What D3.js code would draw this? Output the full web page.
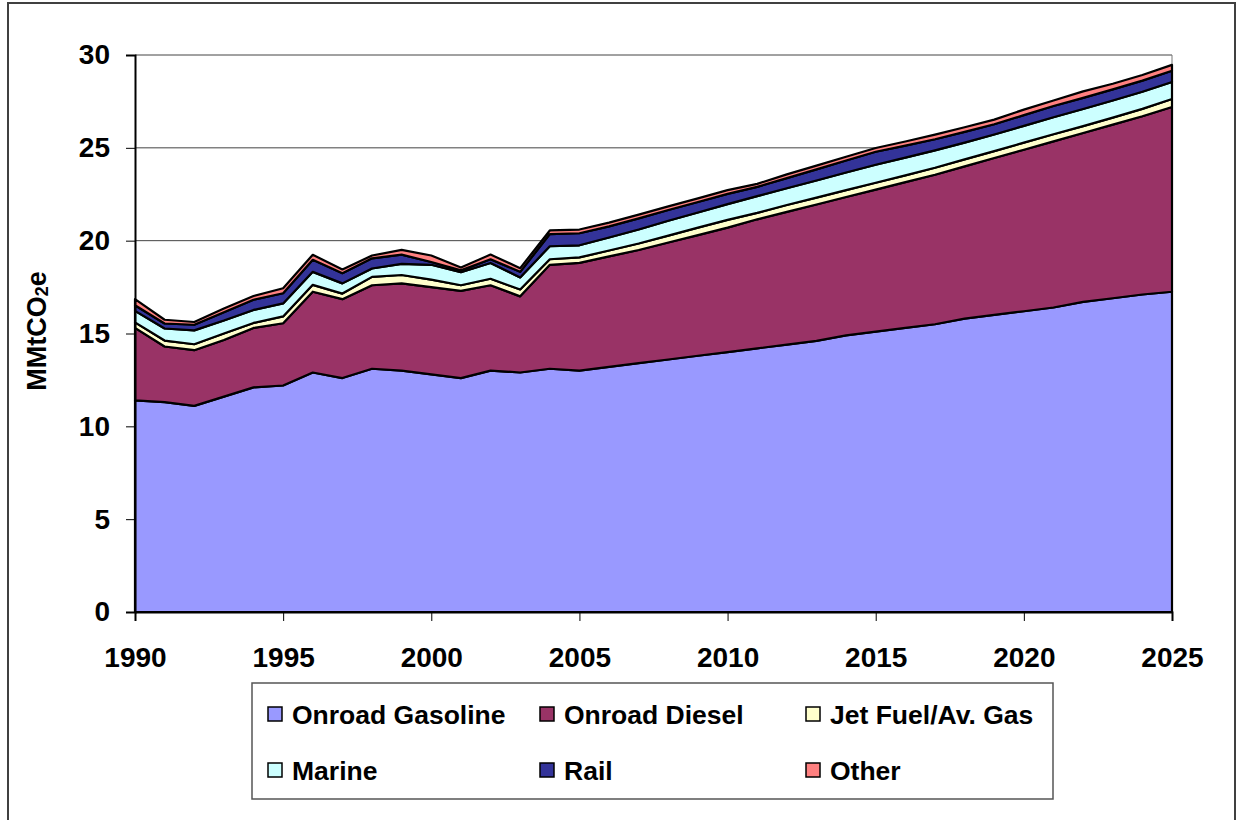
<!DOCTYPE html>
<html>
<head>
<meta charset="utf-8">
<script src="https://cdn.jsdelivr.net/npm/d3@7"></script>
<style>
  body { margin: 0; background: #fff; }
  text { font-family: "Liberation Sans", Arial, sans-serif; font-weight: bold; }
</style>
</head>
<body>
<div id="chart"></div>
<script>
const years = d3.range(1990, 2026);

const seriesNames = ["Onroad Gasoline", "Onroad Diesel", "Jet Fuel/Av. Gas", "Marine", "Rail", "Other"];

const gasoline = [11.4, 11.3, 11.1, 11.6, 12.1, 12.2, 12.9, 12.6, 13.1, 13.0, 12.8, 12.6, 13.0, 12.9, 13.1, 13.0,
    13.2, 13.4, 13.6, 13.8, 14.0, 14.2, 14.4, 14.6, 14.9, 15.1, 15.3, 15.5, 15.8, 16.0, 16.2, 16.4, 16.7, 16.9, 17.1, 17.25];
const diesel = [3.9, 3.0, 3.0, 3.05, 3.2, 3.35, 4.35, 4.25, 4.5, 4.7, 4.7, 4.7, 4.6, 4.1, 5.6, 5.8,
    5.95, 6.1, 6.3, 6.5, 6.7, 6.95, 7.15, 7.35, 7.45, 7.65, 7.85, 8.05, 8.2, 8.45, 8.7, 8.95, 9.1, 9.35, 9.6, 9.95];
const jetFuel = [0.3, 0.32, 0.32, 0.35, 0.27, 0.37, 0.37, 0.3, 0.45, 0.45, 0.4, 0.3, 0.35, 0.37, 0.3, 0.3,
    0.32, 0.35, 0.37, 0.4, 0.42, 0.35, 0.37, 0.37, 0.37, 0.37, 0.37, 0.38, 0.38, 0.37, 0.38, 0.38, 0.37, 0.38, 0.4, 0.43];
const marine = [0.62, 0.65, 0.75, 0.7, 0.7, 0.7, 0.7, 0.55, 0.45, 0.6, 0.8, 0.7, 0.85, 0.65, 0.7, 0.65,
    0.7, 0.75, 0.8, 0.82, 0.85, 0.9, 0.9, 0.92, 0.95, 0.97, 0.95, 0.93, 0.9, 0.9, 0.9, 0.92, 0.92, 0.92, 0.92, 0.92];
const rail = [0.3, 0.27, 0.3, 0.45, 0.55, 0.55, 0.65, 0.55, 0.55, 0.5, 0.15, 0.1, 0.2, 0.3, 0.65, 0.65,
    0.6, 0.6, 0.58, 0.56, 0.55, 0.5, 0.55, 0.6, 0.65, 0.7, 0.65, 0.6, 0.58, 0.55, 0.58, 0.6, 0.6, 0.6, 0.6, 0.6];
const other = [0.33, 0.2, 0.15, 0.2, 0.2, 0.27, 0.27, 0.2, 0.15, 0.25, 0.35, 0.15, 0.25, 0.2, 0.2, 0.2,
    0.2, 0.2, 0.2, 0.2, 0.2, 0.16, 0.2, 0.2, 0.2, 0.2, 0.22, 0.25, 0.25, 0.25, 0.3, 0.3, 0.35, 0.3, 0.3, 0.32];

const yTicks = [0, 5, 10, 15, 20, 25, 30];
const xTicks = [1990, 1995, 2000, 2005, 2010, 2015, 2020, 2025];

const colors = ["#9999ff", "#993366", "#ffffcc", "#ccffff", "#333399", "#ff8080"];

const W = 1236, H = 820;
const plotL = 135, plotR = 1172, plotT = 55, plotB = 612;
const font = "'Liberation Sans', Arial, sans-serif";

const svg = d3.select("#chart").append("svg")
    .attr("width", W)
    .attr("height", H);

// outer chart frame
svg.append("rect")
    .attr("x", 8).attr("y", 3)
    .attr("width", 1227).attr("height", 840)
    .attr("fill", "#fff")
    .attr("stroke", "#404040")
    .attr("stroke-width", 2);

const xScale = d3.scaleLinear().domain([1990, 2025]).range([plotL, plotR]);
const yScale = d3.scaleLinear().domain([0, 30]).range([plotB, plotT]);

const rows = years.map((y, i) => ({
    year: y,
    "Onroad Gasoline": gasoline[i],
    "Onroad Diesel": diesel[i],
    "Jet Fuel/Av. Gas": jetFuel[i],
    "Marine": marine[i],
    "Rail": rail[i],
    "Other": other[i]
}));

const stacked = d3.stack().keys(seriesNames)(rows);

// gridlines
svg.append("g")
    .selectAll("line")
    .data(yTicks.filter(d => d > 0))
    .enter().append("line")
    .attr("x1", plotL).attr("x2", plotR)
    .attr("y1", d => yScale(d)).attr("y2", d => yScale(d))
    .attr("stroke", "#444")
    .attr("stroke-width", 1);

// plot frame (right side)
svg.append("line")
    .attr("x1", plotR).attr("x2", plotR)
    .attr("y1", plotT).attr("y2", plotB)
    .attr("stroke", "#777");

const area = d3.area()
    .x(d => xScale(d.data.year))
    .y0(d => yScale(d[0]))
    .y1(d => yScale(d[1]));

svg.append("g")
    .selectAll("path")
    .data(stacked)
    .enter().append("path")
    .attr("d", area)
    .attr("fill", (d, i) => colors[i])
    .attr("stroke", "#000")
    .attr("stroke-width", 2.2)
    .attr("stroke-linejoin", "round");

const xAxis = d3.axisBottom(xScale).tickValues(xTicks).tickFormat(d3.format("d")).tickSize(9).tickPadding(26);
const yAxis = d3.axisLeft(yScale).tickValues(yTicks).tickSize(9).tickPadding(16);

const gx = svg.append("g")
    .attr("transform", `translate(0,${plotB})`)
    .call(xAxis);
gx.select(".domain").attr("stroke-width", 2);
gx.selectAll("text").attr("font-size", 28).attr("fill", "#000")
    .style("font-family", font).style("font-weight", "bold");

const gy = svg.append("g")
    .attr("transform", `translate(${plotL},0)`)
    .call(yAxis);
gy.select(".domain").attr("stroke-width", 2);
gy.selectAll("text").attr("font-size", 28).attr("fill", "#000")
    .style("font-family", font).style("font-weight", "bold");

// y axis title
const yTitle = svg.append("text")
    .attr("transform", `translate(46,331) rotate(-90)`)
    .attr("text-anchor", "middle")
    .attr("font-size", 27)
    .attr("fill", "#000");
yTitle.append("tspan").text("MMtCO");
yTitle.append("tspan").attr("font-size", 18).attr("dy", 2).text("2");
yTitle.append("tspan").attr("dy", -2).text("e");

// legend
const legendBox = svg.append("g");
legendBox.append("rect")
    .attr("x", 252).attr("y", 683)
    .attr("width", 801).attr("height", 116)
    .attr("fill", "#fff")
    .attr("stroke", "#555")
    .attr("stroke-width", 1.5);

const legendCols = [268, 540, 806];
const legendRows = [714, 770];

const legend = legendBox.selectAll(".legend")
    .data(seriesNames)
    .enter().append("g")
    .attr("class", "legend")
    .attr("transform", (d, i) => `translate(${legendCols[i % 3]},${legendRows[Math.floor(i / 3)]})`);
legend.append("rect")
    .attr("x", 0).attr("y", -7)
    .attr("width", 14).attr("height", 14)
    .attr("fill", (d, i) => colors[i])
    .attr("stroke", "#000")
    .attr("stroke-width", 1.5);
legend.append("text")
    .attr("x", 24)
    .attr("dy", "0.36em")
    .attr("font-size", 26.5)
    .attr("fill", "#000")
    .text(d => d);
</script>
</body>
</html>
